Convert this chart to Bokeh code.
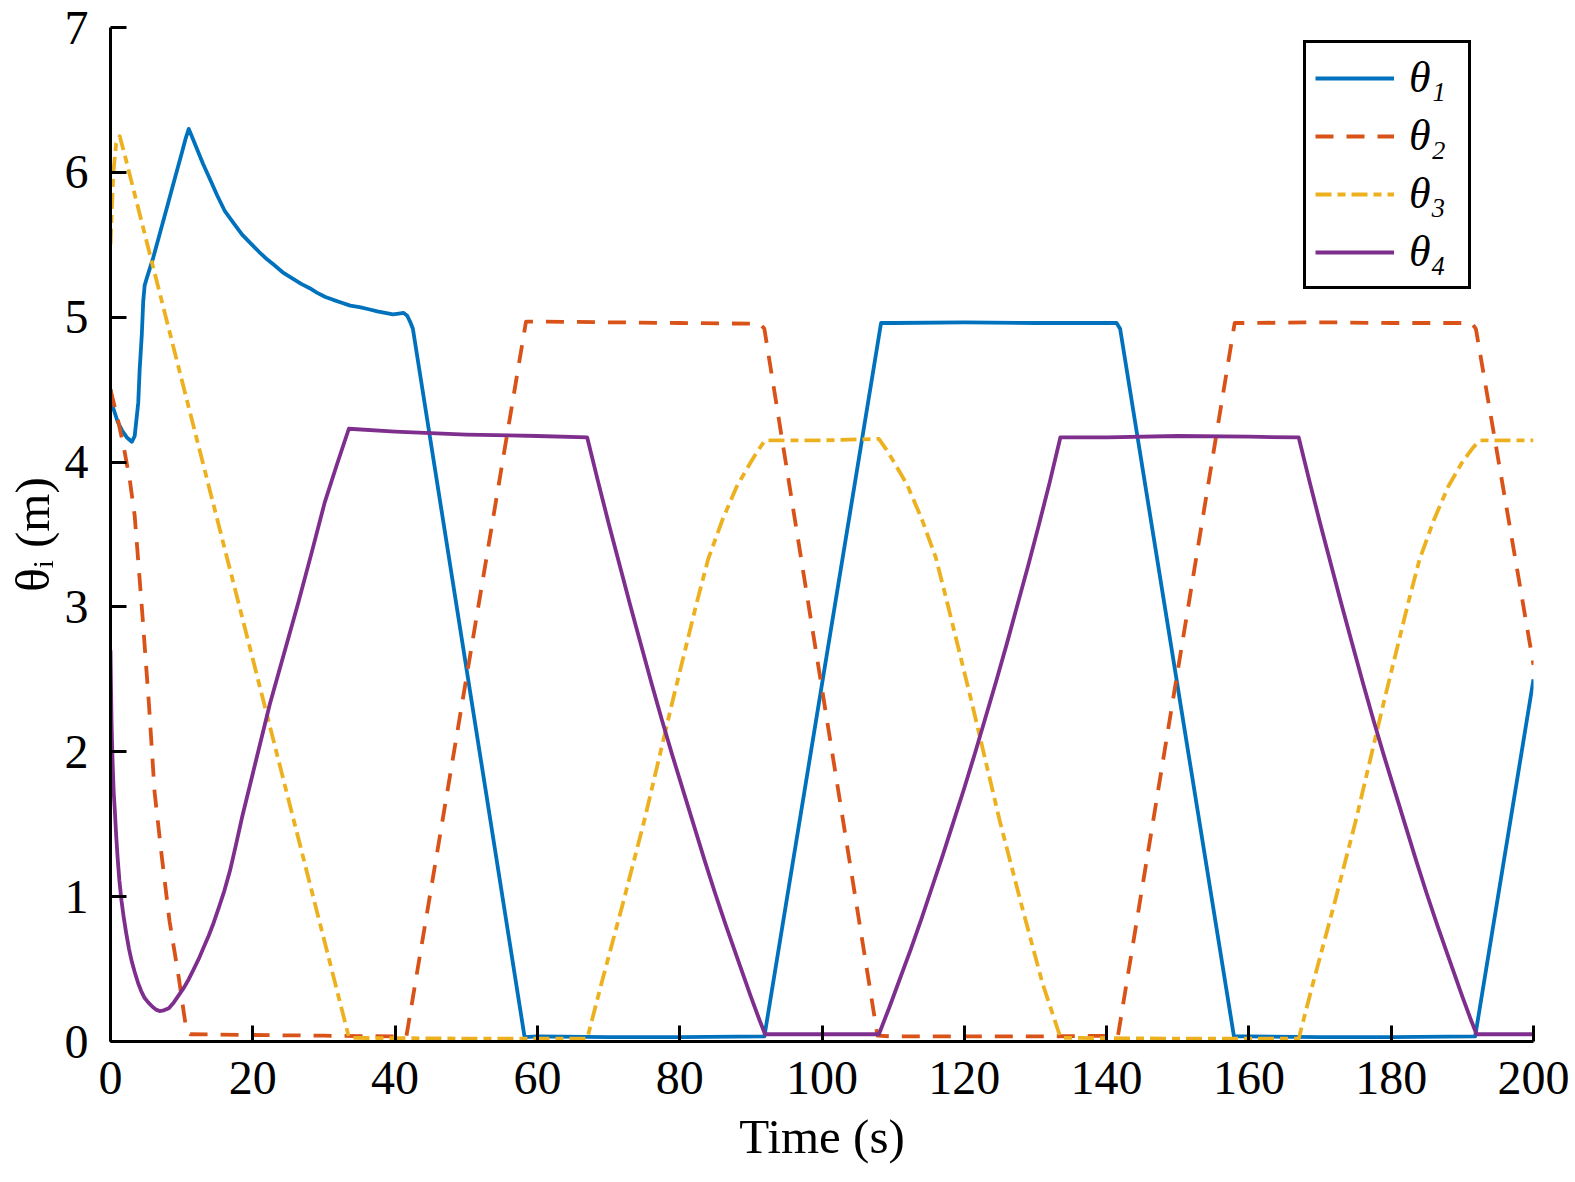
from bokeh.plotting import figure
from bokeh.models import Range1d, Legend, LegendItem, FixedTicker
from bokeh.embed import file_html
from bokeh.resources import INLINE

# ---------------- data ----------------
t1 = [0, 0.4, 1.0, 1.6, 2.3, 3.0, 3.4, 3.9, 4.1, 4.3, 4.4, 4.6, 4.8, 5.1, 6, 7, 8, 9, 10, 10.6, 11.0,
      11.5, 12, 13, 14, 15, 16.1, 17.3, 18.5, 19.7, 20.9, 22, 23, 24.2, 25.5, 26.8, 28, 29, 30.2, 31.3,
      32.5, 33.7, 35, 36.3, 37.5, 38.6, 39.7, 40.5, 41.2, 41.7, 42.1, 42.5, 58.2,
      60, 70, 80, 91.9, 108.3, 110, 120, 130, 141.4, 141.9, 157.9, 160, 170, 180, 191.8, 200]
v1 = [4.50, 4.37, 4.28, 4.22, 4.17, 4.14, 4.18, 4.41, 4.64, 4.80, 4.88, 5.11, 5.22, 5.27, 5.41, 5.59,
      5.77, 5.95, 6.13, 6.24, 6.30,
      6.24, 6.18, 6.06, 5.95, 5.84, 5.73, 5.65, 5.57, 5.51, 5.45, 5.40, 5.36, 5.31, 5.27, 5.23, 5.20,
      5.17, 5.14, 5.12, 5.10, 5.08, 5.07, 5.055, 5.04, 5.03, 5.02, 5.025, 5.03, 5.01, 4.97, 4.92, 0.03,
      0.035, 0.03, 0.03, 0.035, 4.96, 4.96, 4.965, 4.96, 4.96, 4.92, 0.035, 0.035, 0.03, 0.03, 0.035, 2.50]

t2 = [0, 1.0, 1.8, 2.7, 3.4, 4.4, 5.4, 6.2, 7.2, 8.3, 9.6, 10.3, 10.7, 11.2, 20, 30, 41.0, 41.6,
      58.4, 60, 70, 80, 91.3, 91.9, 107.8, 110, 120, 130, 141.6, 158.0, 160, 170, 180, 191.3, 191.9, 200]
v2 = [4.50, 4.30, 4.12, 3.88, 3.63, 3.00, 2.33, 1.72, 1.28, 0.83, 0.44, 0.20, 0.07, 0.05, 0.045, 0.04,
      0.035, 0.04, 4.97, 4.97, 4.965, 4.96, 4.955, 4.92, 0.04, 0.035, 0.035, 0.035, 0.04, 4.96, 4.96,
      4.965, 4.96, 4.96, 4.92, 2.60]

t3 = [0, 0.4, 0.8, 1.3, 2.0, 10, 20, 33.5, 34, 50, 67, 69, 72, 75, 78.9, 82.4, 84, 86, 88, 90, 91, 92,
      100, 108, 109, 110, 112, 114, 116, 117.6, 121.1, 125, 128, 131, 133.5, 134, 150, 167, 169, 172,
      175, 178.9, 182.4, 184, 186, 188, 190, 191.5, 192.5, 200]
v3 = [5.50, 6.00, 6.20, 6.25, 6.12, 4.57, 2.64, 0.03, 0.025, 0.02, 0.02, 0.40, 0.95, 1.52, 2.33, 3.03,
      3.33, 3.60, 3.83, 4.00, 4.08, 4.15, 4.15, 4.16, 4.09, 4.01, 3.84, 3.61, 3.34, 3.03, 2.33, 1.52,
      0.95, 0.40, 0.03, 0.025, 0.02, 0.02, 0.40, 0.95, 1.52, 2.33, 3.03, 3.33, 3.60, 3.83, 4.00, 4.10,
      4.15, 4.15]

t4 = [0, 0.08, 0.15, 0.25, 0.35, 0.45, 0.6, 0.8, 1.0, 1.25, 1.55, 1.85, 2.2, 2.6, 3.0, 3.4, 3.9, 4.3,
      4.8, 5.3, 5.9, 6.4, 6.9, 7.5, 8.2, 8.9, 9.6, 10.3, 11, 11.7, 12.4, 13.1, 13.8, 14.5, 15.2, 16,
      16.8, 17.6, 18.5, 20.5, 22.4, 24.4, 26.4, 28.3, 30.1, 31.8, 33.5, 40, 50, 60,
      67, 68.5, 70, 71.5, 73, 74.5, 76, 77.5, 79, 80.5, 82, 83.5, 85, 86.5, 88, 89, 90, 91.2, 92,
      100, 108, 109.5, 111, 112.5, 114, 115.5, 117, 118.5, 120, 121.5, 123, 124.5, 126, 127.5, 129,
      130.5, 132, 133.5, 140, 150, 160,
      167, 168.5, 170, 171.5, 173, 174.5, 176, 177.5, 179, 180.5, 182, 183.5, 185, 186.5, 188, 189,
      190, 191.2, 192, 200]
v4 = [2.70, 2.42, 2.20, 2.00, 1.85, 1.72, 1.60, 1.42, 1.27, 1.11, 0.97, 0.86, 0.75, 0.64, 0.55, 0.48,
      0.40, 0.35, 0.30, 0.27, 0.24, 0.22, 0.21, 0.215, 0.23, 0.27, 0.32, 0.37, 0.43, 0.50, 0.57, 0.65,
      0.73, 0.82, 0.92, 1.04, 1.18, 1.35, 1.55, 1.95, 2.33, 2.68, 3.03, 3.38, 3.72, 3.98, 4.23, 4.21,
      4.19, 4.18,
      4.17, 3.87, 3.58, 3.30, 3.02, 2.75, 2.48, 2.22, 1.97, 1.73, 1.49, 1.25, 1.02, 0.80, 0.59, 0.45,
      0.31, 0.15, 0.05,
      0.05, 0.05, 0.24, 0.44, 0.64, 0.85, 1.07, 1.29, 1.52, 1.75, 1.99, 2.24, 2.49, 2.75, 3.02, 3.29,
      3.57, 3.86, 4.17, 4.17, 4.18, 4.175,
      4.17, 3.87, 3.58, 3.30, 3.02, 2.75, 2.48, 2.22, 1.97, 1.73, 1.49, 1.25, 1.02, 0.80, 0.59, 0.45,
      0.31, 0.15, 0.05, 0.05]

series_labels = ["θ₁", "θ₂", "θ₃", "θ₄"]
x_ticks = [0, 20, 40, 60, 80, 100, 120, 140, 160, 180, 200]
y_ticks = [0, 1, 2, 3, 4, 5, 6, 7]
x_label = "Time (s)"
y_label = "θᵢ (m)"

assert len(t1) == len(v1) and len(t2) == len(v2) and len(t3) == len(v3) and len(t4) == len(v4)

# ---------------- figure ----------------
FONT = "Liberation Serif"
p = figure(width=1570, height=1180, output_backend="svg", toolbar_location=None,
           x_range=Range1d(0, 200), y_range=Range1d(0, 7),
           frame_width=1423, frame_height=1014,
           min_border_left=110, min_border_right=37, min_border_top=27, min_border_bottom=139)
p.outline_line_color = None
p.background_fill_color = "white"
p.border_fill_color = "white"
p.xgrid.visible = False
p.ygrid.visible = False

for ax in (p.xaxis[0], p.yaxis[0]):
    ax.axis_line_width = 3
    ax.axis_line_color = "black"
    ax.major_tick_in = 16
    ax.major_tick_out = 0
    ax.major_tick_line_width = 3
    ax.major_tick_line_color = "black"
    ax.minor_tick_line_color = None
    ax.major_label_text_font = FONT
    ax.major_label_text_font_size = "48px"
    ax.major_label_text_color = "black"
    ax.axis_label_text_font = FONT
    ax.axis_label_text_font_size = "49px"
    ax.axis_label_text_font_style = "normal"
    ax.axis_label_text_color = "black"

p.xaxis.ticker = FixedTicker(ticks=x_ticks)
p.yaxis.ticker = FixedTicker(ticks=y_ticks)
p.xaxis.major_label_standoff = 20
p.yaxis.major_label_standoff = 22
p.xaxis.axis_label = x_label
p.xaxis.axis_label_standoff = 12
p.yaxis.axis_label = y_label
p.yaxis.axis_label_standoff = 2

colors = ["#0072BD", "#D95319", "#EDB120", "#7E2F8E"]
dashes = ["solid", "18 13", "16 6 8 6", "solid"]
data = [(t1, v1), (t2, v2), (t3, v3), (t4, v4)]
renderers = []
for (tt, vv), c, d in zip(data, colors, dashes):
    r = p.line(tt, vv, line_color=c, line_width=3.8, line_dash=d, line_join="round")
    renderers.append(r)

items = [LegendItem(label=lab, renderers=[r]) for lab, r in zip(series_labels, renderers)]
legend = Legend(items=items, location=(1193, 752), orientation="vertical")
legend.border_line_color = "black"
legend.border_line_alpha = 1.0
legend.border_line_width = 3
legend.background_fill_color = "white"
legend.background_fill_alpha = 1.0
legend.label_text_font = FONT
legend.label_text_font_style = "italic"
legend.label_text_font_size = "44px"
legend.label_text_color = "black"
legend.glyph_width = 79
legend.glyph_height = 46
legend.label_height = 46
legend.label_width = 50
legend.label_standoff = 15
legend.spacing = 7
legend.padding = 9
legend.margin = 0
p.add_layout(legend, "center")

open("out.html", "w").write(file_html(p, INLINE))
